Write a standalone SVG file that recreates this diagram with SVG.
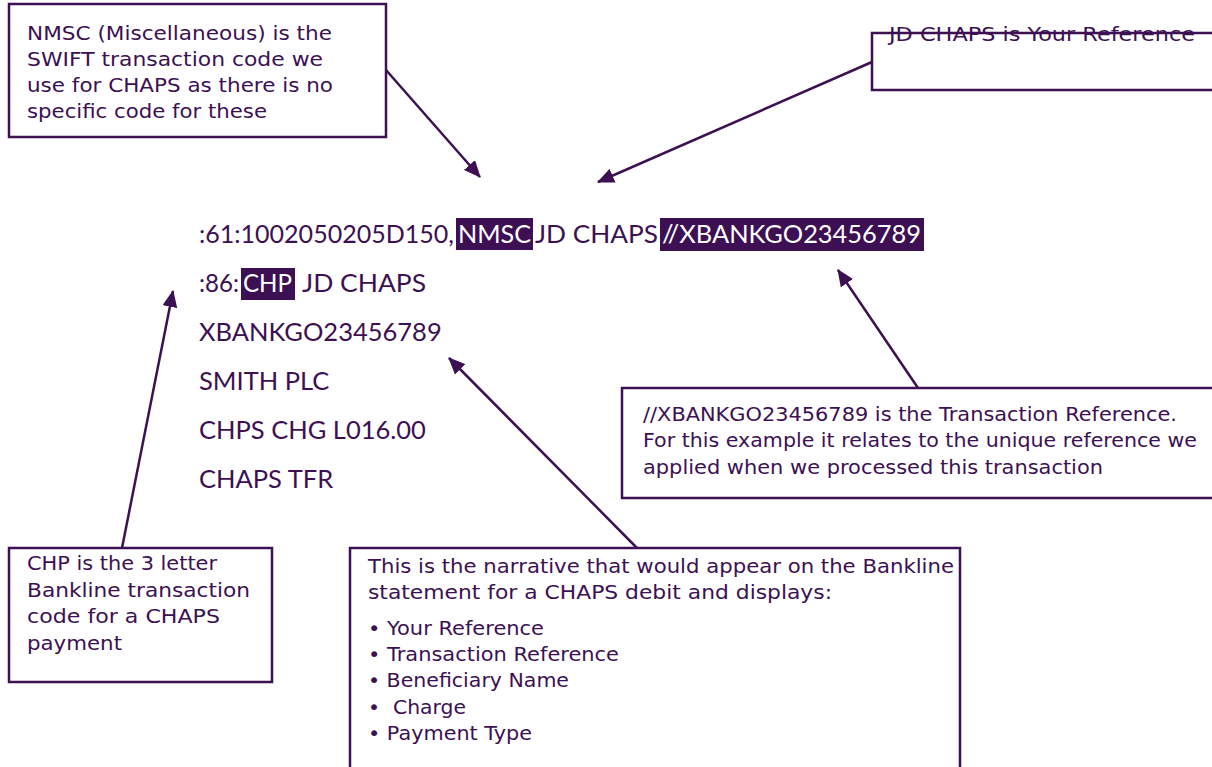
<svg xmlns="http://www.w3.org/2000/svg" width="1212" height="767" viewBox="0 0 1212 767">
<style>
.box{fill:#fff;stroke:#3c1053;stroke-width:2.5}
.ann{font-family:"DejaVu Sans","Liberation Sans",sans-serif;font-size:19.5px;fill:#3c1053}
.code{font-family:Lato,"Liberation Sans",sans-serif;font-size:25.5px;fill:#3c1053}
.hl{fill:#3c1053}
.inv{fill:#fff}
.conn{stroke:#3c1053;stroke-width:2.5;fill:none;marker-end:url(#ah)}
</style>
<defs>
<marker id="ah" viewBox="0 0 16 14" refX="15" refY="7" markerWidth="17" markerHeight="15" markerUnits="userSpaceOnUse" orient="auto">
<path d="M0,0 L16,7 L0,14 Z" fill="#3c1053"/>
</marker>
</defs>
<rect width="1212" height="767" fill="#fff"/>

<g id="code">
<rect class="hl" x="456" y="218" width="77" height="32"/>
<rect class="hl" x="241" y="268" width="54" height="32"/>
<rect class="hl" x="660" y="218" width="264" height="33"/>
<text class="code" x="199" y="243" textLength="255" lengthAdjust="spacingAndGlyphs">:61:1002050205D150,</text>
<text class="code inv" x="458" y="243" textLength="73" lengthAdjust="spacingAndGlyphs">NMSC</text>
<text class="code" x="535" y="243" textLength="123" lengthAdjust="spacingAndGlyphs">JD CHAPS</text>
<text class="code inv" x="662" y="243" textLength="259" lengthAdjust="spacingAndGlyphs">//XBANKGO23456789</text>
<text class="code" x="199" y="292" textLength="40" lengthAdjust="spacingAndGlyphs">:86:</text>
<text class="code inv" x="243" y="292" textLength="49" lengthAdjust="spacingAndGlyphs">CHP</text>
<text class="code" x="302" y="292" textLength="124" lengthAdjust="spacingAndGlyphs">JD CHAPS</text>
<text class="code" x="199" y="341">XBANKGO23456789</text>
<text class="code" x="199" y="390">SMITH PLC</text>
<text class="code" x="199" y="439">CHPS CHG L016.00</text>
<text class="code" x="199" y="488">CHAPS TFR</text>
</g>

<g id="connectors">
<line class="conn" x1="386" y1="70" x2="480" y2="177"/>
<line class="conn" x1="872" y1="62" x2="598" y2="182"/>
<line class="conn" x1="918" y1="388" x2="838" y2="270"/>
<line class="conn" x1="122" y1="548" x2="173" y2="291"/>
<line class="conn" x1="637" y1="548" x2="449" y2="358"/>
</g>

<g id="box-nmsc">
<rect class="box" x="9" y="4" width="377" height="133"/>
<text class="ann" x="27" y="40" textLength="305" lengthAdjust="spacingAndGlyphs">NMSC (Miscellaneous) is the</text>
<text class="ann" x="27" y="66" textLength="296" lengthAdjust="spacingAndGlyphs">SWIFT transaction code we</text>
<text class="ann" x="27" y="92" textLength="306" lengthAdjust="spacingAndGlyphs">use for CHAPS as there is no</text>
<text class="ann" x="27" y="118" textLength="240" lengthAdjust="spacingAndGlyphs">specific code for these</text>
</g>

<g id="box-yourref">
<path class="box" d="M1213,33 H872 V90 H1213"/>
<text class="ann" x="889" y="41" textLength="306" lengthAdjust="spacingAndGlyphs">JD CHAPS is Your Reference</text>
</g>

<g id="box-txnref">
<path class="box" d="M1213,388 H622 V498 H1213"/>
<text class="ann" x="643" y="421" textLength="534" lengthAdjust="spacingAndGlyphs">//XBANKGO23456789 is the Transaction Reference.</text>
<text class="ann" x="643" y="447" textLength="554" lengthAdjust="spacingAndGlyphs">For this example it relates to the unique reference we</text>
<text class="ann" x="643" y="474" textLength="460" lengthAdjust="spacingAndGlyphs">applied when we processed this transaction</text>
</g>

<g id="box-chp">
<rect class="box" x="9" y="548" width="263" height="134"/>
<text class="ann" x="27" y="570" textLength="190" lengthAdjust="spacingAndGlyphs">CHP is the 3 letter</text>
<text class="ann" x="27" y="597" textLength="223" lengthAdjust="spacingAndGlyphs">Bankline transaction</text>
<text class="ann" x="27" y="623" textLength="193" lengthAdjust="spacingAndGlyphs">code for a CHAPS</text>
<text class="ann" x="27" y="650" textLength="95" lengthAdjust="spacingAndGlyphs">payment</text>
</g>

<g id="box-narrative">
<path class="box" d="M350,768 V548 H960 V768"/>
<text class="ann" x="368" y="573" textLength="586" lengthAdjust="spacingAndGlyphs">This is the narrative that would appear on the Bankline</text>
<text class="ann" x="368" y="599" textLength="464" lengthAdjust="spacingAndGlyphs">statement for a CHAPS debit and displays:</text>
<text class="ann" x="368" y="635" textLength="176" lengthAdjust="spacingAndGlyphs">• Your Reference</text>
<text class="ann" x="368" y="661" textLength="251" lengthAdjust="spacingAndGlyphs">• Transaction Reference</text>
<text class="ann" x="368" y="687" textLength="201" lengthAdjust="spacingAndGlyphs">• Beneficiary Name</text>
<text class="ann" x="368" y="714" xml:space="preserve" textLength="98" lengthAdjust="spacingAndGlyphs">•  Charge</text>
<text class="ann" x="368" y="740" textLength="164" lengthAdjust="spacingAndGlyphs">• Payment Type</text>
</g>
</svg>
